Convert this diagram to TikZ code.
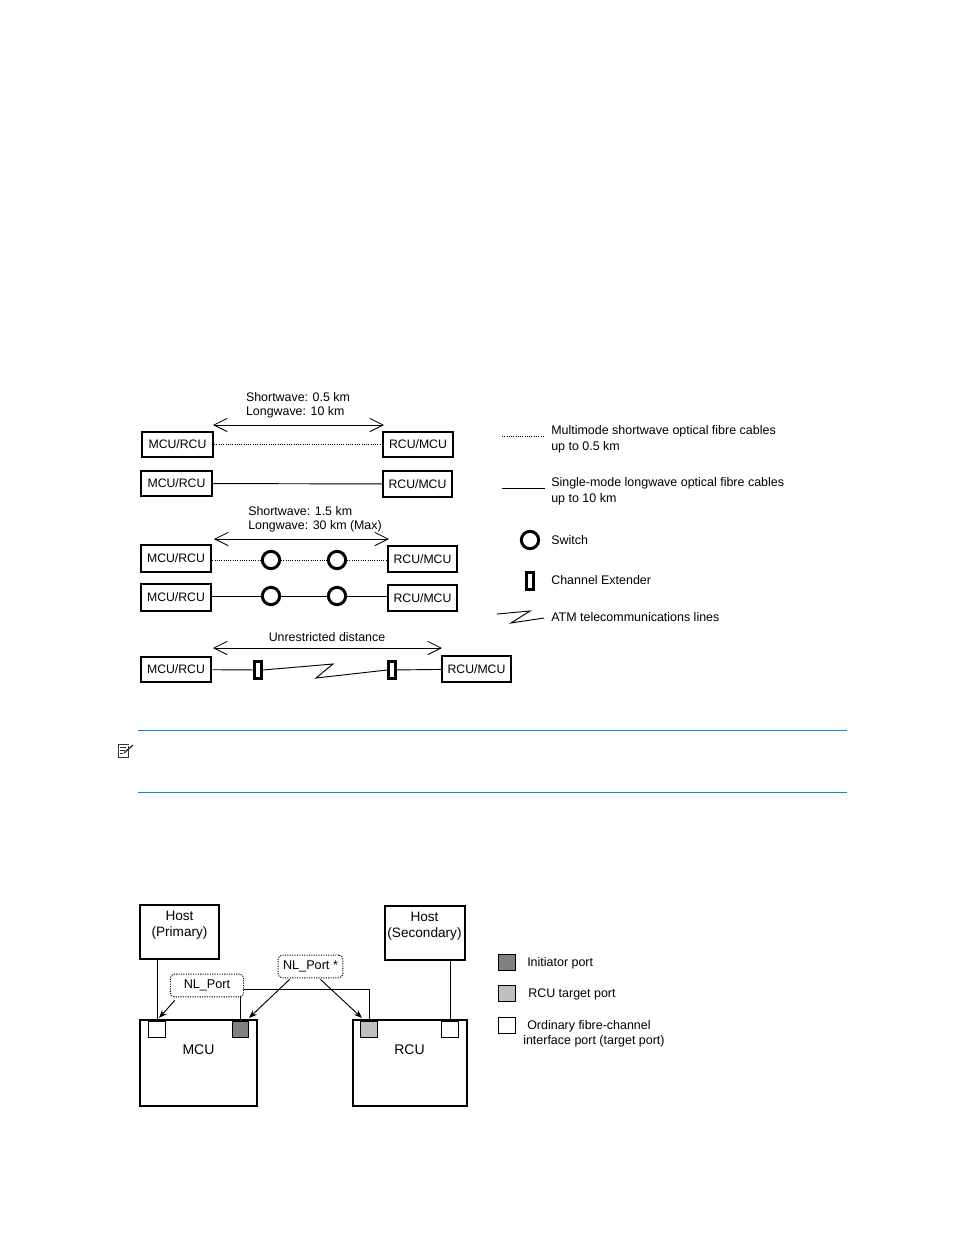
\documentclass[tikz,border=0pt]{standalone}
\usepackage{fontspec}
\setmainfont{Liberation Sans}
\usetikzlibrary{arrows.meta,positioning}
\tikzset{unitbox/.style={
    % The shape:
    rectangle,
    % The size:
    minimum width=52pt,
    minimum height=19pt,
    inner sep=0pt,
    % The border:
    line width=1.5pt,
    draw=black,
    font=\fontsize{9.2}{11}\selectfont
    },
    hostbox/.style={
    rectangle,
    minimum width=59pt,
    minimum height=40pt,
    inner sep=0pt,
    line width=1.5pt,
    draw=black,
    align=center,
    font=\fontsize{10.2}{12}\selectfont
    },
    ctrlbox/.style={
    rectangle,
    minimum height=65pt,
    inner sep=0pt,
    line width=1.5pt,
    draw=black,
    align=center,
    font=\fontsize{10.5}{12}\selectfont
    },
    switchnode/.style={
    circle,
    minimum size=13pt,
    inner sep=0pt,
    line width=2.2pt,
    draw=black,
    fill=white,
    },
    extender/.style={
    rectangle,
    minimum width=5pt,
    minimum height=13pt,
    inner sep=0pt,
    line width=2.2pt,
    draw=black,
    fill=white,
    },
    portbox/.style={
    rectangle,
    minimum size=12.5pt,
    inner sep=0pt,
    line width=0.7pt,
    draw=black,
    },
    callout/.style={
    rectangle,rounded corners=3pt,
    inner sep=0pt,
    line width=0.8pt,
    densely dotted,
    draw=black,
    fill=white,
    font=\fontsize{9.5}{11}\selectfont
    },
    legendtext/.style={
    anchor=west,
    inner sep=0pt,
    align=left,
    font=\fontsize{9.35}{12.2}\selectfont
    },
    spantext/.style={
    inner sep=0pt,
    align=left,
    font=\fontsize{9.3}{10.7}\selectfont
    },
    span/.style={line width=0.6pt,{Straight Barb[length=10pt,width=10pt]}-{Straight Barb[length=10pt,width=10pt]}},
    cable/.style={line width=0.7pt},
    multimode/.style={line width=0.7pt,densely dotted},
    rulecolor/.style={draw=cyan!70!blue,line width=0.75pt},
}

\begin{document}
\begin{tikzpicture}[x=0.75pt,y=-0.75pt,node distance = 0mm and 5mm]
    \useasboundingbox (0,0) rectangle (954,1235);

    % shortwave and longwave, direct
    \node (mcuA) [unitbox,minimum width=53.5pt] at (177.5,444.5) {MCU/RCU};
    \node (rcuA) [unitbox] at (418,444.5)   {RCU/MCU};
    \node (mcuB) [unitbox,minimum width=53.5pt] at (176.5,483.5) {MCU/RCU};
    \node (rcuB) [unitbox] at (417.5,484)   {RCU/MCU};
    \draw[multimode] (mcuA) -- (rcuA);
    \draw[cable]     (mcuB) -- (rcuB);
    \coordinate (spanAl) at (213,425);
    \coordinate (spanAr) at (384,425);
    \draw[span] (spanAl) -- (spanAr);
    \node (spanAtext) [spantext] at (298,405.5) {Shortwave: 0.5 km\\Longwave: 10 km};

    % through switches
    \node (mcuC) [unitbox,minimum height=20.5pt,minimum width=53pt] at (176,558.5) {MCU/RCU};
    \node (rcuC) [unitbox] at (422.5,559)   {RCU/MCU};
    \node (mcuD) [unitbox,minimum height=20.5pt,minimum width=53pt] at (176,597.5) {MCU/RCU};
    \node (rcuD) [unitbox] at (422.5,598)   {RCU/MCU};
    \node (swC1) [switchnode] at (271,560) {};
    \node (swC2) [switchnode] at (337,560) {};
    \node (swD1) [switchnode] at (271,596) {};
    \node (swD2) [switchnode] at (337,596) {};
    \draw[multimode] (mcuC) -- (swC1 -| mcuC.east) -- (swC1);
    \draw[multimode] (swC1) -- (swC2);
    \draw[multimode] (swC2) -- (swC2 -| rcuC.west);
    \draw[cable] (swD1 -| mcuD.east) -- (swD1);
    \draw[cable] (swD1) -- (swD2);
    \draw[cable] (swD2) -- (swD2 -| rcuD.west);
    \coordinate (spanBl) at (214,539);
    \coordinate (spanBr) at (389,539);
    \draw[span] (spanBl) -- (spanBr);
    \node (spanBtext) [spantext] at (315,519) {Shortwave: 1.5 km\\Longwave: 30 km (Max)};

    % through channel extenders
    \node (mcuE) [unitbox,minimum width=53pt] at (176,669.5) {MCU/RCU};
    \node (rcuE) [unitbox] at (476.5,669) {RCU/MCU};
    \node (extE1) [extender] at (258,670) {};
    \node (extE2) [extender] at (392,670) {};
    \coordinate (zigA) at (333,664);
    \coordinate (zigB) at (316,678);
    \draw[cable] (mcuE) -- (extE1);
    \draw[cable] (extE2) -- (rcuE);
    \draw[cable] (extE1.east) -- (zigA) -- (zigB) -- (extE2.west);
    \coordinate (spanCl) at (213,648);
    \coordinate (spanCr) at (442,648);
    \draw[span] (spanCl) -- (spanCr);
    \node (spanCtext) [spantext] at (327,637) {Unrestricted distance};

    % legend of the cables
    \coordinate (legAl) at (502,436);
    \coordinate (legAr) at (545,436);
    \coordinate (legBl) at (502,488);
    \coordinate (legBr) at (545,488);
    \draw[multimode] (legAl) -- (legAr);
    \draw[cable] (legBl) -- (legBr);
    \node (legAtext) [legendtext] at (551,439.5) {Multimode shortwave optical fibre cables\\up to 0.5 km};
    \node (legBtext) [legendtext] at (551,491) {Single-mode longwave optical fibre cables\\up to 10 km};
    \node (legSw) [switchnode] at (530,540) {};
    \node (legSwtext) [legendtext] at (551,540) {Switch};
    \node (legExt) [extender] at (530,581) {};
    \node (legExttext) [legendtext] at (551,580) {Channel Extender};
    \coordinate (legCa) at (497,614);
    \coordinate (legCb) at (530,611);
    \coordinate (legCc) at (511,623);
    \coordinate (legCd) at (544,618);
    \draw[cable] (legCa) -- (legCb) -- (legCc) -- (legCd);
    \node (legCtext) [legendtext] at (551,617) {ATM telecommunications lines};

    % note
    \coordinate (ruleAl) at (138,730);
    \coordinate (ruleAr) at (847,730);
    \coordinate (ruleBl) at (138,792);
    \coordinate (ruleBr) at (847,792);
    \draw[rulecolor] (ruleAl) -- (ruleAr);
    \draw[rulecolor] (ruleBl) -- (ruleBr);
    \draw[line width=0.7pt,black!80] (128,746) -- (128,757) -- (118,757) -- (118,744) -- (129,744);
    \draw[line width=0.5pt,black!80] (120,747) -- (126,747) (120,750) -- (125,750) (120,753) -- (123,753);
    \draw[line width=1pt,black!80] (133,745) -- (124,753);

    % hosts and controllers
    \node (hostP) [hostbox] at (179.5,932) {Host\\(Primary)\\~};
    \node (hostS) [hostbox,minimum width=60pt] at (424.5,933) {Host\\(Secondary)\\~};
    \node (mcu) [ctrlbox,minimum width=87.5pt] at (198.5,1063) {MCU\\[8.5pt]~};
    \node (rcu) [ctrlbox,minimum width=85.5pt] at (409.5,1063) {RCU\\[8.5pt]~};
    \node (portPw) [portbox,fill=white]      at (157,1029.5) {};
    \node (portPi) [portbox,fill=black!50]   at (240.5,1029.5) {};
    \node (portSt) [portbox,fill=black!25]   at (369,1029.5) {};
    \node (portSw) [portbox,fill=white]      at (450,1029.5) {};
    \coordinate (fabric) at (300,989);
    \draw[cable] (portPw.north |- hostP.south) -- (portPw.north);
    \draw[cable] (portSw.north |- hostS.south) -- (portSw.north);
    \draw[cable] (portPi.north) |- (fabric) -| (portSt.north);
    \node (nlP) [callout,minimum width=55pt,minimum height=17pt] at (207,985.5) {NL\_Port};
    \node (nlS) [callout,minimum width=48.5pt,minimum height=17pt] at (310.5,966.5) {NL\_Port *};
    \coordinate (tipPw) at (159,1018);
    \coordinate (tipPi) at (249,1018);
    \coordinate (tipSt) at (362,1018);
    \draw[-Stealth,cable] (nlP.south west) ++(5,3) -- (tipPw);
    \draw[-Stealth,cable] (nlS.south west) ++(12,1) -- (tipPi);
    \draw[-Stealth,cable] (nlS.south east) ++(-23,1) -- (tipSt);

    % legend of the ports
    \node (legPi) [portbox,fill=black!50] at (507,962.5) {};
    \node (legPt) [portbox,fill=black!25] at (507,993.5) {};
    \node (legPo) [portbox,fill=white]    at (507,1025.5) {};
    \node (legPitext) [legendtext] at (527,963.5) {Initiator port};
    \node (legPttext) [legendtext] at (528,994.5) {RCU target port};
    \node (legPotext) [legendtext,font=\fontsize{9.35}{11.5}\selectfont] at (523,1034) {\hspace{3pt}Ordinary fibre-channel\\interface port (target port)};
  \end{tikzpicture}
\end{document}
